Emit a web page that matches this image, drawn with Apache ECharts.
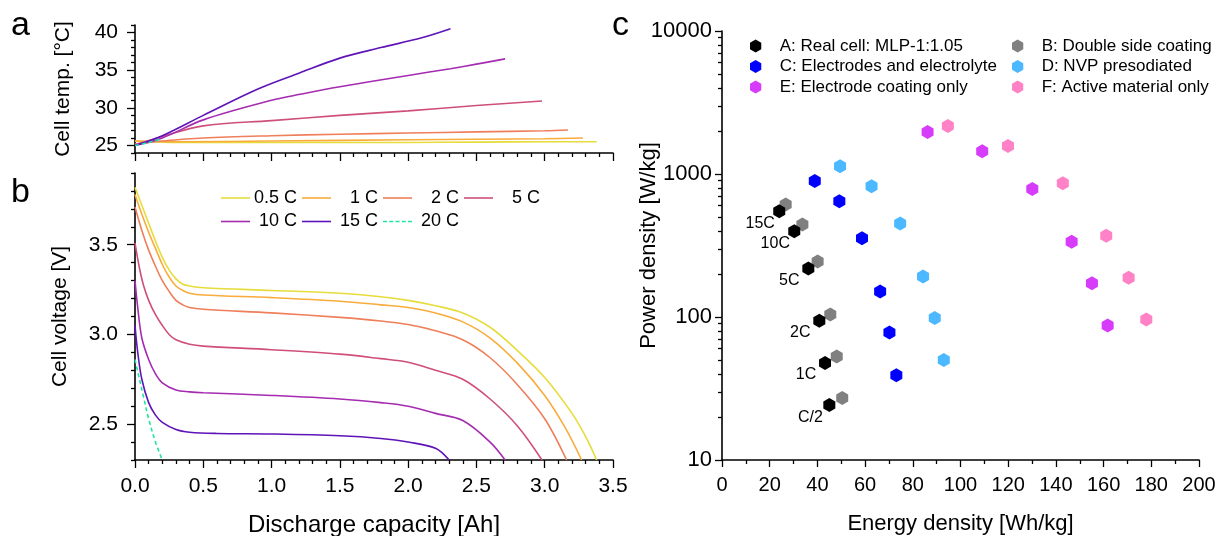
<!DOCTYPE html>
<html lang="en">
<head>
    <meta charset="UTF-8">
    <script src="https://cdn.jsdelivr.net/npm/echarts@6/dist/echarts.min.js"></script>
    <style>
        body, html {
            margin: 0;
            height: 100%;
            background: #fff;
        }

        #main {
            width: 1220px;
            height: 536px;
        }
    </style>
    <title>Discharge and Ragone</title>
</head>
<body>

<div id="main"></div>
<script type="text/javascript">
    const myChart = echarts.init(document.getElementById('main'));
    const FONT = '"Liberation Sans", Arial, sans-serif';

    // C-rates, colours
    const rates = ['0.5 C', '1 C', '2 C', '5 C', '10 C', '15 C', '20 C'];
    const rateColors = ['#e6dc3c', '#f9ac3c', '#ef7f5a', '#cf4f7c', '#a52cb0', '#5f14b8', '#1ee6a0'];

    // panel a: cell temperature vs capacity
    const tempCap = [
        [0, 0.2, 0.5, 1.0, 1.5, 2.0, 2.5, 3.0, 3.38],
        [0, 0.3, 1.0, 2.0, 3.0, 3.28],
        [0, 0.2, 0.5, 1.0, 1.5, 2.0, 2.5, 3.0, 3.17],
        [0, 0.2, 0.5, 1.0, 1.5, 2.0, 2.5, 2.98],
        [0, 0.2, 0.5, 1.0, 1.21, 1.5, 2.0, 2.31, 2.5, 2.71],
        [0, 0.2, 0.5, 0.9, 1.2, 1.5, 1.8, 2.1, 2.31],
        [0, 0.1, 0.18]
    ];
    const tempVal = [
        [25.6, 25.45, 25.4, 25.4, 25.4, 25.4, 25.45, 25.5, 25.5],
        [25.6, 25.5, 25.6, 25.75, 25.9, 26.0],
        [25.2, 25.6, 26.0, 26.3, 26.5, 26.65, 26.8, 26.95, 27.05],
        [25.1, 26.2, 27.6, 28.3, 29.0, 29.6, 30.3, 30.9],
        [25.0, 26.0, 28.4, 31.0, 31.8, 32.8, 34.3, 35.2, 35.8, 36.5],
        [25.0, 26.3, 29.0, 32.5, 34.6, 36.6, 38.0, 39.3, 40.5],
        [25.0, 25.4, 25.8]
    ];

    // panel b: cell voltage vs capacity
    const voltCap = [
        [0, 0.05, 0.1, 0.15, 0.2, 0.25, 0.3, 0.35, 0.4, 0.5, 1.0, 1.5, 1.8, 2.0, 2.2, 2.4, 2.6, 2.8, 3.0, 3.2, 3.3, 3.38],
        [0, 0.05, 0.1, 0.15, 0.2, 0.25, 0.3, 0.35, 0.4, 0.5, 1.0, 1.5, 1.8, 2.0, 2.2, 2.4, 2.6, 2.8, 3.0, 3.15, 3.27],
        [0, 0.05, 0.1, 0.15, 0.2, 0.25, 0.3, 0.35, 0.4, 0.5, 1.0, 1.5, 1.8, 2.0, 2.2, 2.4, 2.6, 2.8, 3.0, 3.16],
        [0, 0.03, 0.06, 0.1, 0.15, 0.2, 0.25, 0.3, 0.4, 0.5, 1.0, 1.5, 1.8, 2.0, 2.2, 2.4, 2.6, 2.8, 2.98],
        [0, 0.02, 0.05, 0.1, 0.15, 0.2, 0.3, 0.4, 0.5, 1.0, 1.5, 1.8, 2.0, 2.2, 2.4, 2.6, 2.71],
        [0, 0.02, 0.05, 0.1, 0.15, 0.2, 0.3, 0.4, 0.6, 1.0, 1.5, 1.8, 2.0, 2.2, 2.3],
        [0, 0.03, 0.06, 0.1, 0.15, 0.2]
    ];
    const voltVal = [
        [3.82, 3.72, 3.62, 3.52, 3.43, 3.36, 3.31, 3.28, 3.27, 3.26, 3.245, 3.23, 3.21, 3.19, 3.16, 3.12, 3.04, 2.91, 2.76, 2.56, 2.43, 2.30],
        [3.78, 3.67, 3.57, 3.48, 3.39, 3.32, 3.27, 3.245, 3.23, 3.22, 3.205, 3.185, 3.165, 3.15, 3.12, 3.07, 2.98, 2.84, 2.66, 2.48, 2.30],
        [3.71, 3.58, 3.47, 3.38, 3.30, 3.24, 3.19, 3.165, 3.15, 3.14, 3.12, 3.095, 3.075, 3.055, 3.02, 2.97, 2.87, 2.72, 2.53, 2.30],
        [3.51, 3.38, 3.28, 3.19, 3.11, 3.05, 3.0, 2.97, 2.945, 2.935, 2.915, 2.89, 2.865, 2.845, 2.80, 2.75, 2.64, 2.49, 2.30],
        [3.30, 3.15, 2.98, 2.86, 2.78, 2.73, 2.69, 2.68, 2.675, 2.66, 2.64, 2.62, 2.60, 2.56, 2.52, 2.40, 2.30],
        [3.05, 2.90, 2.75, 2.62, 2.55, 2.51, 2.47, 2.455, 2.448, 2.445, 2.435, 2.42, 2.40, 2.365, 2.30],
        [2.86, 2.76, 2.66, 2.53, 2.40, 2.30]
    ];

    // tick labels
    const tempTicks = [25, 30, 35, 40];
    const tempMinor = [24, 26, 27, 28, 29, 31, 32, 33, 34, 36, 37, 38, 39, 41];
    const voltTicks = [2.5, 3.0, 3.5];
    const voltMinor = [2.3, 2.4, 2.6, 2.7, 2.8, 2.9, 3.1, 3.2, 3.3, 3.4, 3.6, 3.7, 3.8, 3.9];
    const powerMinor = [20, 30, 40, 50, 60, 70, 80, 90, 200, 300, 400, 500, 600, 700, 800, 900,
        2000, 3000, 4000, 5000, 6000, 7000, 8000, 9000];

    // panel c: Ragone plot
    const groups = ['A: Real cell: MLP-1:1.05', 'B: Double side coating', 'C: Electrodes and electrolyte',
        'D: NVP presodiated', 'E: Electrode coating only', 'F: Active material only'];
    const groupColors = ['#000000', '#808080', '#0000ff', '#4cb8ff', '#d63cfa', '#ff82c6'];
    const energyA = [24.0, 30.3, 36.2, 40.8, 43.2, 45.0];
    const powerA = [549, 398, 218, 94, 47.7, 24.2];
    const energyB = [26.7, 33.7, 40.1, 45.4, 48.1, 50.4];
    const powerB = [611, 443, 244, 104, 52.9, 27.1];
    const energyC = [38.9, 49.2, 58.7, 66.3, 70.2, 73.1];
    const powerC = [895, 645, 356, 151, 77.8, 39.2];
    const energyD = [49.5, 62.7, 74.7, 84.3, 89.2, 93.0];
    const powerD = [1132, 820, 451, 192, 98.4, 50.1];
    const energyE = [86.2, 109.1, 130.1, 146.6, 155.1, 161.7];
    const powerE = [1967, 1440, 787, 336, 172, 87.1];
    const energyF = [94.7, 119.9, 142.9, 161.1, 170.5, 177.9];
    const powerF = [2167, 1571, 861, 370, 188, 95.9];
    const rateLabels = ['15C', '10C', '5C', '2C', '1C', 'C/2'];

    const hexagon = 'path://M0,-1 L0.866,-0.5 L0.866,0.5 L0,1 L-0.866,0.5 L-0.866,-0.5 Z';
    const lineIcon = 'path://M0,0 L29,0 L29,1.6 L0,1.6 Z';
    const dashIcon = 'path://M0,0 h4 v1.6 h-4 Z M6.25,0 h4 v1.6 h-4 Z M12.5,0 h4 v1.6 h-4 Z M18.75,0 h4 v1.6 h-4 Z M25,0 h4 v1.6 h-4 Z';

    const zip = (xs, ys) => xs.map((x, i) => [x, ys[i]]);

    const axisLine = {lineStyle: {color: '#000', width: 1.6}};
    const tickStyle = {lineStyle: {color: '#000', width: 1.3}};
    const labelStyle = {color: '#000', fontFamily: FONT, fontSize: 21};
    const nameStyle = {color: '#000', fontFamily: FONT, fontSize: 21};

    const capAxis = function (gridIndex, showLabels) {
        return {
            type: 'value', gridIndex: gridIndex, min: 0, max: 3.5, interval: 0.5,
            axisLine: axisLine,
            axisTick: Object.assign({length: 8}, tickStyle),
            minorTick: Object.assign({show: true, splitNumber: 5, length: 4}, tickStyle),
            splitLine: {show: false},
            axisLabel: Object.assign({show: showLabels, margin: 16, formatter: v => v.toFixed(1)}, labelStyle),
            name: showLabels ? 'Discharge capacity [Ah]' : '',
            nameLocation: 'middle', nameGap: 53,
            nameTextStyle: {color: '#000', fontFamily: FONT, fontSize: 24}
        };
    };

    const minorAxis = function (gridIndex, min, max, values) {
        return {
            type: 'value', gridIndex: gridIndex, min: min, max: max, position: 'left',
            axisLine: {show: false},
            axisTick: Object.assign({length: 4, customValues: values}, tickStyle),
            axisLabel: {show: false},
            splitLine: {show: false}
        };
    };

    const lineSeries = [];
    rates.forEach(function (r, i) {
        const style = {color: rateColors[i], width: 1.6, type: i === 6 ? [4, 3] : 'solid'};
        lineSeries.push({
            name: r, type: 'line', xAxisIndex: 0, yAxisIndex: 0,
            data: zip(tempCap[i], tempVal[i]), showSymbol: false, symbol: 'none',
            smooth: 0.35, lineStyle: style, color: rateColors[i]
        });
        lineSeries.push({
            name: r, type: 'line', xAxisIndex: 1, yAxisIndex: 2,
            data: zip(voltCap[i], voltVal[i]), showSymbol: false, symbol: 'none',
            smooth: 0.35, lineStyle: style, color: rateColors[i]
        });
    });

    const scatterData = [
        [energyA, powerA], [energyB, powerB], [energyC, powerC],
        [energyD, powerD], [energyE, powerE], [energyF, powerF]
    ];
    // draw B before A so the black marks sit on top
    const scatterOrder = [1, 0, 2, 3, 4, 5];
    const scatterSeries = scatterOrder.map(function (g) {
        const s = {
            name: groups[g], type: 'scatter', xAxisIndex: 2, yAxisIndex: 4,
            data: zip(scatterData[g][0], scatterData[g][1]),
            symbol: hexagon, symbolSize: [12, 14], symbolKeepAspect: false,
            itemStyle: {color: groupColors[g], opacity: 1},
            color: groupColors[g], z: g === 0 ? 5 : 3
        };
        if (g === 0) {
            s.label = {
                show: true, position: 'inside', offset: [-19, 12],
                formatter: p => rateLabels[p.dataIndex],
                color: '#000', fontFamily: FONT, fontSize: 16
            };
        }
        return s;
    });

    const rateLegend = function (names, top) {
        return {
            data: names.map(n => ({name: n, icon: n === '20 C' ? dashIcon : lineIcon})),
            left: 221, top: top, padding: 0, orient: 'horizontal',
            itemWidth: 29, itemHeight: 12, itemGap: 5, selectedMode: false,
            formatter: name => '{t|' + name + '}',
            textStyle: {
                color: '#000', fontFamily: FONT, fontSize: 18, lineHeight: 18,
                rich: {t: {width: 42, align: 'right', fontFamily: FONT, fontSize: 18, color: '#000'}}
            }
        };
    };

    const groupLegend = function (data, left) {
        return {
            data: data, left: left, top: 37.5, padding: 0, orient: 'vertical',
            itemWidth: 38, itemHeight: 13, itemGap: 3.5, selectedMode: false,
            icon: hexagon,
            textStyle: {color: '#000', fontFamily: FONT, fontSize: 17, lineHeight: 17}
        };
    };

    const option = {
        animation: false,
        backgroundColor: '#fff',
        grid: [
            {left: 135, top: 25, width: 478, height: 128, outerBoundsMode: 'none'},
            {left: 135, top: 173, width: 478, height: 287, outerBoundsMode: 'none'},
            {left: 722, top: 31, width: 477, height: 429, outerBoundsMode: 'none'}
        ],
        xAxis: [
            capAxis(0, false),
            capAxis(1, true),
            {
                type: 'value', gridIndex: 2, min: 0, max: 200, interval: 20,
                axisLine: axisLine,
                axisTick: Object.assign({length: 7}, tickStyle),
                minorTick: Object.assign({show: true, splitNumber: 2, length: 4}, tickStyle),
                splitLine: {show: false},
                axisLabel: Object.assign({margin: 15}, labelStyle, {fontSize: 20}),
                name: 'Energy density [Wh/kg]', nameLocation: 'middle', nameGap: 53,
                nameTextStyle: {color: '#000', fontFamily: FONT, fontSize: 22}
            }
        ],
        yAxis: [
            {
                type: 'value', gridIndex: 0, min: 24, max: 41, position: 'left',
                axisLine: axisLine,
                axisTick: Object.assign({length: 8, customValues: tempTicks}, tickStyle),
                axisLabel: Object.assign({customValues: tempTicks, margin: 17}, labelStyle),
                splitLine: {show: false},
                name: 'Cell temp. [°C]', nameLocation: 'middle', nameGap: 61,
                nameTextStyle: nameStyle
            },
            minorAxis(0, 24, 41, tempMinor),
            {
                type: 'value', gridIndex: 1, min: 2.3, max: 3.9, position: 'left',
                axisLine: axisLine,
                axisTick: Object.assign({length: 8, customValues: voltTicks}, tickStyle),
                axisLabel: Object.assign({customValues: voltTicks, margin: 17, formatter: v => v.toFixed(1)}, labelStyle),
                splitLine: {show: false},
                name: 'Cell voltage [V]', nameLocation: 'middle', nameGap: 64,
                nameTextStyle: nameStyle
            },
            minorAxis(1, 2.3, 3.9, voltMinor),
            {
                type: 'log', logBase: 10, gridIndex: 2, min: 10, max: 10000, position: 'left',
                axisLine: axisLine,
                axisTick: Object.assign({length: 7}, tickStyle),
                axisLabel: Object.assign({margin: 10, formatter: v => String(Math.round(v))}, labelStyle, {fontSize: 22}),
                splitLine: {show: false},
                name: 'Power density [W/kg]', nameLocation: 'middle', nameGap: 62, nameMoveOverlap: false,
                nameTextStyle: {color: '#000', fontFamily: FONT, fontSize: 22}
            },
            minorAxis(2, 1, 4, powerMinor.map(v => Math.log10(v)))
        ],
        legend: [
            rateLegend(rates.slice(0, 4), 189),
            rateLegend(rates.slice(4), 212.5),
            groupLegend([groups[0], groups[2], groups[4]], 750),
            groupLegend([groups[1], groups[3], groups[5]], 1012)
        ],
        graphic: [
            {type: 'text', left: 11, top: 9, style: {text: 'a', font: '34px ' + FONT, fill: '#000'}},
            {type: 'text', left: 11, top: 176, style: {text: 'b', font: '34px ' + FONT, fill: '#000'}},
            {type: 'text', left: 612, top: 9, style: {text: 'c', font: '34px ' + FONT, fill: '#000'}}
        ],
        series: lineSeries.concat(scatterSeries)
    };
    myChart.setOption(option);

</script>
</body>
</html>
